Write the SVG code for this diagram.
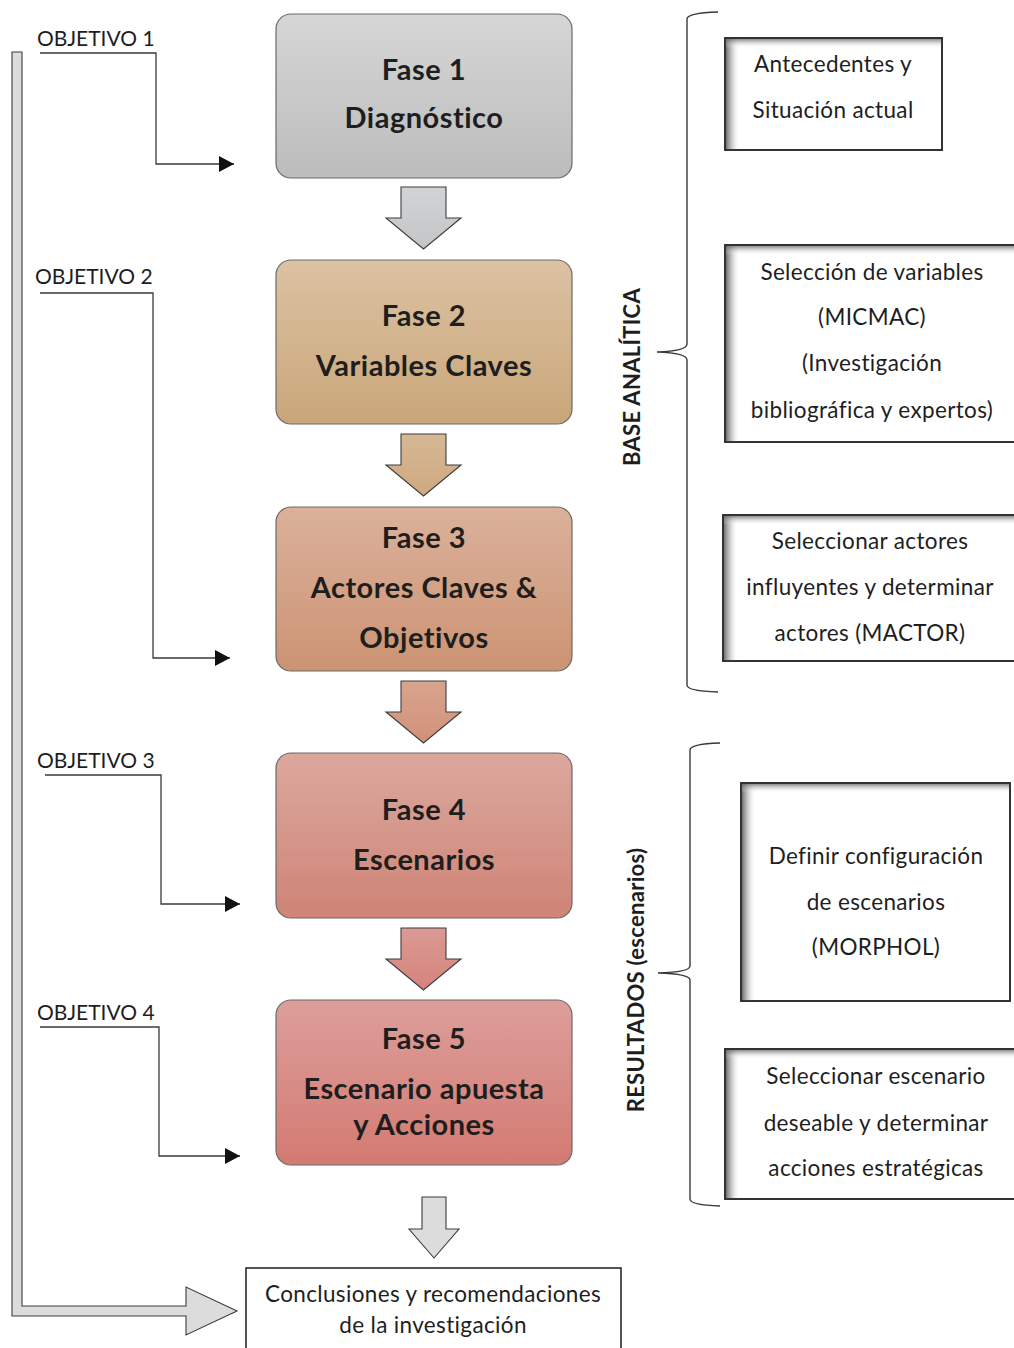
<svg xmlns="http://www.w3.org/2000/svg" width="1014" height="1348" viewBox="0 0 1014 1348">
  <style>
    .phase-title { font-family: Lato, "Open Sans", sans-serif; font-weight: bold; font-size: 29px; letter-spacing: 0.5px; fill: #1e1e1e; text-anchor: middle; }
    .obj { font-family: Lato, "Open Sans", sans-serif; font-size: 21px; fill: #1e1e1e; }
    .note { font-family: Lato, "Open Sans", sans-serif; font-size: 22.5px; letter-spacing: 0.35px; fill: #1e1e1e; text-anchor: middle; }
    .side { font-family: Lato, "Open Sans", sans-serif; font-weight: bold; font-size: 22px; letter-spacing: 0.3px; fill: #1e1e1e; text-anchor: middle; }
    .phase { stroke: #6a6a6a; stroke-width: 1.2; }
    .noteBox { fill: #ffffff; stroke: #2a2a2a; stroke-width: 1.6; }
    .link { fill: none; stroke: #3a3a3a; stroke-width: 1.3; }
    .brace { fill: none; stroke: #3a3a3a; stroke-width: 1.4; }
    .blk { stroke: #3c3c3c; stroke-width: 1.1; }
  </style>
  <defs>
    <linearGradient id="g1" x1="0" y1="0" x2="0" y2="1"><stop offset="0" stop-color="#d6d6d6"/><stop offset="1" stop-color="#bcbcbc"/></linearGradient>
    <linearGradient id="g2" x1="0" y1="0" x2="0" y2="1"><stop offset="0" stop-color="#dcc2a3"/><stop offset="1" stop-color="#c9a679"/></linearGradient>
    <linearGradient id="g3" x1="0" y1="0" x2="0" y2="1"><stop offset="0" stop-color="#dbb19b"/><stop offset="1" stop-color="#cc9373"/></linearGradient>
    <linearGradient id="g4" x1="0" y1="0" x2="0" y2="1"><stop offset="0" stop-color="#dba89e"/><stop offset="1" stop-color="#cf8476"/></linearGradient>
    <linearGradient id="g5" x1="0" y1="0" x2="0" y2="1"><stop offset="0" stop-color="#dd9e9b"/><stop offset="1" stop-color="#d37a71"/></linearGradient>
    <linearGradient id="a1" x1="0" y1="0" x2="0" y2="1"><stop offset="0" stop-color="#d2d3d5"/><stop offset="1" stop-color="#c4c5c7"/></linearGradient>
    <linearGradient id="a2" x1="0" y1="0" x2="0" y2="1"><stop offset="0" stop-color="#d6b896"/><stop offset="1" stop-color="#cfa97f"/></linearGradient>
    <linearGradient id="a3" x1="0" y1="0" x2="0" y2="1"><stop offset="0" stop-color="#d8a48e"/><stop offset="1" stop-color="#d29178"/></linearGradient>
    <linearGradient id="a4" x1="0" y1="0" x2="0" y2="1"><stop offset="0" stop-color="#db9a94"/><stop offset="1" stop-color="#d5837c"/></linearGradient>
    <!-- inner shading along the left and top edges of the note boxes -->
    <linearGradient id="shL" x1="0" y1="0" x2="1" y2="0"><stop offset="0" stop-color="#555555" stop-opacity="0.95"/><stop offset="0.4" stop-color="#8a8a8a" stop-opacity="0.55"/><stop offset="1" stop-color="#ffffff" stop-opacity="0"/></linearGradient>
    <linearGradient id="shT" x1="0" y1="0" x2="0" y2="1"><stop offset="0" stop-color="#5a5a5a" stop-opacity="0.85"/><stop offset="0.4" stop-color="#8a8a8a" stop-opacity="0.45"/><stop offset="1" stop-color="#ffffff" stop-opacity="0"/></linearGradient>
    <marker id="tri" markerWidth="16" markerHeight="16" refX="15" refY="8" orient="auto" markerUnits="userSpaceOnUse">
      <path d="M0,0 L15,8 L0,16 Z" fill="#111"/>
    </marker>
  </defs>

  <!-- connectors -->
  <g id="connectors">
    <!-- objective leaders -->
    <path class="link" d="M40,53 H156 V164 H234" marker-end="url(#tri)"/>
    <path class="link" d="M40,293 H153 V658 H230" marker-end="url(#tri)"/>
    <path class="link" d="M45,775 H161 V904 H240" marker-end="url(#tri)"/>
    <path class="link" d="M40,1027 H159 V1156 H240" marker-end="url(#tri)"/>

    <!-- block arrows between phases -->
    <path class="blk" fill="url(#a1)" d="M401,187 H446 V218 H461 L423.5,249 L386,218 H401 Z"/>
    <path class="blk" fill="url(#a2)" d="M401,434 H446 V465 H461 L423.5,496 L386,465 H401 Z"/>
    <path class="blk" fill="url(#a3)" d="M401,681 H446 V712 H461 L423.5,743 L386,712 H401 Z"/>
    <path class="blk" fill="url(#a4)" d="M401,928 H446 V959 H461 L423.5,990 L386,959 H401 Z"/>
    <path class="blk" fill="#dcdcdc" d="M422,1197 H446 V1229 H459 L434,1258 L409,1229 H422 Z"/>

    <!-- large return arrow into the conclusions -->
    <path class="blk" fill="#dcdcdc" d="M12,52 H22 V1306 H186 V1287 L237,1311 L186,1335 V1316 H12 Z"/>

    <!-- braces -->
    <path class="brace" d="M718,12 Q687,13 687,19 V344 Q687,351 657,352 Q687,353 687,360 V685 Q687,691 718,692"/>
    <path class="brace" d="M720,743 Q690,744 690,750 V966 Q690,972 658,973 Q690,974 690,980 V1199 Q690,1205 720,1206"/>
  </g>

  <!-- side labels -->
  <g id="label-base">
    <text class="side" transform="translate(640,377) rotate(-90)">BASE ANALÍTICA</text>
  </g>
  <g id="label-resultados">
    <text class="side" transform="translate(644,980) rotate(-90)">RESULTADOS (escenarios)</text>
  </g>

  <!-- objectives -->
  <g id="obj1"><text class="obj" x="37" y="46">OBJETIVO 1</text></g>
  <g id="obj2"><text class="obj" x="35" y="284">OBJETIVO 2</text></g>
  <g id="obj3"><text class="obj" x="37" y="768">OBJETIVO 3</text></g>
  <g id="obj4"><text class="obj" x="37" y="1020">OBJETIVO 4</text></g>

  <!-- phases -->
  <g id="fase1">
    <rect class="phase" x="276" y="14" width="296" height="164" rx="15" fill="url(#g1)"/>
    <text class="phase-title" x="424" y="80">Fase 1</text>
    <text class="phase-title" x="424" y="128">Diagnóstico</text>
  </g>
  <g id="fase2">
    <rect class="phase" x="276" y="260" width="296" height="164" rx="15" fill="url(#g2)"/>
    <text class="phase-title" x="424" y="326">Fase 2</text>
    <text class="phase-title" x="424" y="376">Variables Claves</text>
  </g>
  <g id="fase3">
    <rect class="phase" x="276" y="507" width="296" height="164" rx="15" fill="url(#g3)"/>
    <text class="phase-title" x="424" y="548">Fase 3</text>
    <text class="phase-title" x="424" y="598">Actores Claves &amp;</text>
    <text class="phase-title" x="424" y="648">Objetivos</text>
  </g>
  <g id="fase4">
    <rect class="phase" x="276" y="753" width="296" height="165" rx="15" fill="url(#g4)"/>
    <text class="phase-title" x="424" y="820">Fase 4</text>
    <text class="phase-title" x="424" y="870">Escenarios</text>
  </g>
  <g id="fase5">
    <rect class="phase" x="276" y="1000" width="296" height="165" rx="15" fill="url(#g5)"/>
    <text class="phase-title" x="424" y="1049">Fase 5</text>
    <text class="phase-title" x="424" y="1099">Escenario apuesta</text>
    <text class="phase-title" x="424" y="1135">y Acciones</text>
  </g>

  <!-- conclusions -->
  <g id="conclusiones">
    <rect x="246" y="1268" width="375" height="100" fill="#ffffff" stroke="#2a2a2a" stroke-width="1.6"/>
    <text class="note" x="433" y="1302">Conclusiones y recomendaciones</text>
    <text class="note" x="433" y="1333">de la investigación</text>
  </g>

  <!-- notes on the right -->
  <g id="nota1">
    <rect class="noteBox" x="725" y="38" width="217" height="112"/>
    <rect x="725" y="38" width="15" height="112" fill="url(#shL)"/>
    <rect x="725" y="38" width="217" height="10" fill="url(#shT)"/>
    <rect x="725" y="38" width="217" height="112" fill="none" stroke="#2a2a2a" stroke-width="1.6"/>
    <text class="note" x="833" y="72">Antecedentes y</text>
    <text class="note" x="833" y="118">Situación actual</text>
  </g>
  <g id="nota2">
    <rect class="noteBox" x="725" y="245" width="300" height="197"/>
    <rect x="725" y="245" width="15" height="197" fill="url(#shL)"/>
    <rect x="725" y="245" width="300" height="10" fill="url(#shT)"/>
    <rect x="725" y="245" width="300" height="197" fill="none" stroke="#2a2a2a" stroke-width="1.6"/>
    <text class="note" x="872" y="280">Selección de variables</text>
    <text class="note" x="872" y="325">(MICMAC)</text>
    <text class="note" x="872" y="371">(Investigación</text>
    <text class="note" x="872" y="418">bibliográfica y expertos)</text>
  </g>
  <g id="nota3">
    <rect class="noteBox" x="723" y="515" width="300" height="146"/>
    <rect x="723" y="515" width="15" height="146" fill="url(#shL)"/>
    <rect x="723" y="515" width="300" height="10" fill="url(#shT)"/>
    <rect x="723" y="515" width="300" height="146" fill="none" stroke="#2a2a2a" stroke-width="1.6"/>
    <text class="note" x="870" y="549">Seleccionar actores</text>
    <text class="note" x="870" y="595">influyentes y determinar</text>
    <text class="note" x="870" y="641">actores (MACTOR)</text>
  </g>
  <g id="nota4">
    <rect class="noteBox" x="741" y="783" width="269" height="218"/>
    <rect x="741" y="783" width="15" height="218" fill="url(#shL)"/>
    <rect x="741" y="783" width="269" height="10" fill="url(#shT)"/>
    <rect x="741" y="783" width="269" height="218" fill="none" stroke="#2a2a2a" stroke-width="1.6"/>
    <text class="note" x="876" y="864">Definir configuración</text>
    <text class="note" x="876" y="910">de escenarios</text>
    <text class="note" x="876" y="955">(MORPHOL)</text>
  </g>
  <g id="nota5">
    <rect class="noteBox" x="725" y="1049" width="300" height="150"/>
    <rect x="725" y="1049" width="15" height="150" fill="url(#shL)"/>
    <rect x="725" y="1049" width="300" height="10" fill="url(#shT)"/>
    <rect x="725" y="1049" width="300" height="150" fill="none" stroke="#2a2a2a" stroke-width="1.6"/>
    <text class="note" x="876" y="1084">Seleccionar escenario</text>
    <text class="note" x="876" y="1131">deseable y determinar</text>
    <text class="note" x="876" y="1176">acciones estratégicas</text>
  </g>
</svg>
